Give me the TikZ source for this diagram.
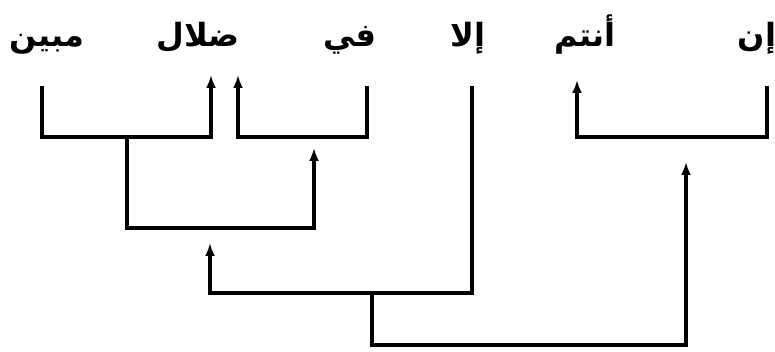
\documentclass[tikz,border=0pt]{standalone}
\usepackage{fontspec}
\usepackage{tikz}
\usetikzlibrary{arrows.meta}
\TeXXeTstate=1
\newfontfamily\arabicfont[Script=Arabic]{DejaVu Sans}
\newcommand{\Ar}[1]{{\arabicfont\bfseries\beginR #1\endR}}

\begin{document}
\begin{tikzpicture}[x=1pt, y=-1pt, line width=3.6pt,
  word/.style={anchor=base, inner sep=0pt, font=\fontsize{32}{36}\selectfont},
  arr/.style={-{Latex[length=13pt,width=10pt]}}]
\useasboundingbox (0,0) rectangle (775,352);

\draw(47,47) node[word] (mubin) {\Ar{مبين}};
\draw(198,47) node[word] (dalal) {\Ar{ضلال}};
\draw(350,47) node[word] (fi) {\Ar{في}};
\draw(468,47) node[word] (illa) {\Ar{إلا}};
\draw(585,47) node[word] (antum) {\Ar{أنتم}};
\draw(757,47) node[word] (in) {\Ar{إن}};

\coordinate (mubin-b) at (42,86);
\coordinate (dalal-l) at (211,75);
\coordinate (dalal-r) at (238,75);
\coordinate (fi-b) at (367,86);
\coordinate (illa-b) at (472,86);
\coordinate (antum-b) at (577,80);
\coordinate (in-b) at (767,86);
\coordinate (j1) at (127,137);
\coordinate (j2) at (314,148);
\coordinate (j3) at (210,243);
\coordinate (j4) at (372,293);
\coordinate (j5) at (686,162);

\draw[arr] (mubin-b) -- ++(0,51) -| (dalal-l);
\draw[arr] (fi-b) -- ++(0,51) -| (dalal-r);
\draw[arr] (in-b) -- ++(0,51) -| (antum-b);
\draw[arr] (j1) -- ++(0,91) -| (j2);
\draw[arr] (illa-b) -- ++(0,207) -| (j3);
\draw[arr] (j4) -- ++(0,52) -| (j5);

\end{tikzpicture}
\end{document}
